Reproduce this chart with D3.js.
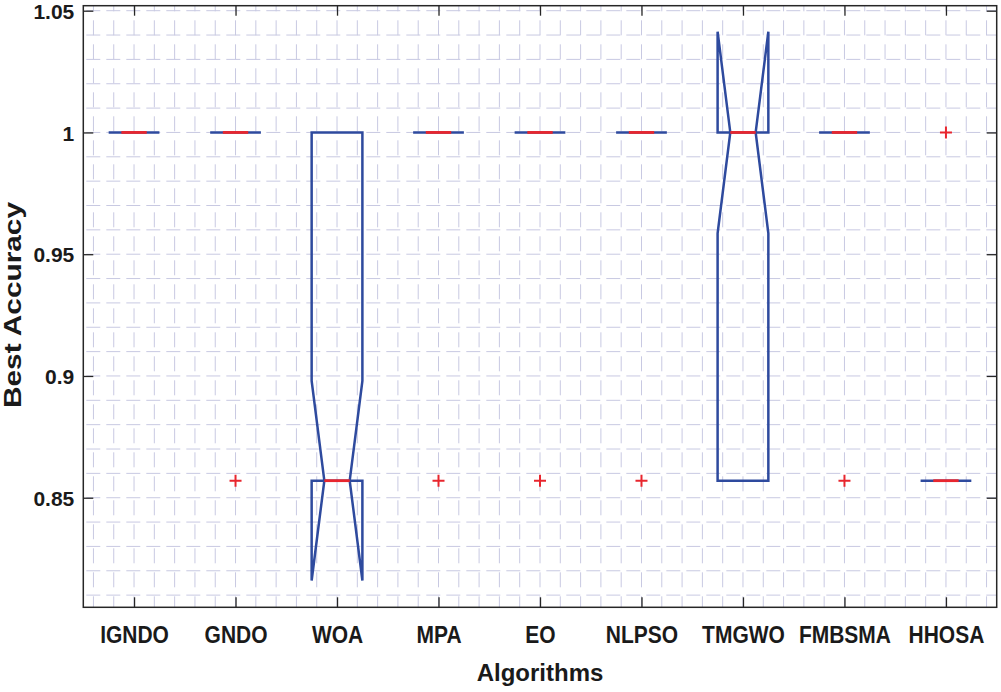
<!DOCTYPE html>
<meta charset="utf-8">
<style>
  body { margin: 0; background: #fff; }
  text { font-family: "Liberation Sans", Arial, sans-serif; font-weight: bold; fill: #1a1a1a; }
</style>
<svg width="1001" height="692"></svg>
<script src="https://d3js.org/d3.v7.min.js"></script>
<script>
// algorithms on the x axis
var algorithms = ['IGNDO', 'GNDO', 'WOA', 'MPA', 'EO', 'NLPSO', 'TMGWO', 'FMBSMA', 'HHOSA']

// box statistics
var q1      = [1, 1, 0.857, 1, 1, 1, 0.857, 1, 0.857]
var median  = [1, 1, 0.857, 1, 1, 1, 1,     1, 0.857]
var q3      = [1, 1, 1,     1, 1, 1, 1,     1, 0.857]
var notchLo = [1, 1, 0.816, 1, 1, 1, 0.9586, 1, 0.857]
var notchHi = [1, 1, 0.898, 1, 1, 1, 1.0414, 1, 0.857]

// outliers (red +)
var outliers = [
  { alg: 'GNDO', value: 0.857 },
  { alg: 'MPA', value: 0.857 },
  { alg: 'EO', value: 0.857 },
  { alg: 'NLPSO', value: 0.857 },
  { alg: 'FMBSMA', value: 0.857 },
  { alg: 'HHOSA', value: 1 }
]

var yTicks = [0.85, 0.9, 0.95, 1, 1.05]
var yTickLabels = ['0.85', '0.9', '0.95', '1', '1.05']

var svg = d3.select('svg')

// plot box edges (window.top is reserved, so own names)
var pLeft = 83.3, pRight = 996.7, pTop = 5.7, pBottom = 607.3

var x = d3.scaleLinear().domain([0.5, algorithms.length + 0.5]).range([pLeft, pRight])
var y = d3.scaleLinear().domain([0.805, 1.05205]).range([pBottom, pTop])

var blue = '#2e4a9e'
var red = '#e8262e'
var gridColor = '#c8c9e2'

// grid, dashed like the matlab export
var grid = svg.append('g')
d3.range(0.6, 9.45, 0.2).forEach(function (v) {
  grid.append('line')
    .attr('x1', x(v)).attr('x2', x(v))
    .attr('y1', pBottom).attr('y2', pTop)
    .attr('stroke', gridColor).attr('stroke-width', 1)
    .attr('stroke-dasharray', '15,9')
    .attr('stroke-dashoffset', 4)
})
d3.range(0.81, 1.0505, 0.01).forEach(function (v) {
  grid.append('line')
    .attr('x1', pLeft).attr('x2', pRight)
    .attr('y1', y(v)).attr('y2', y(v))
    .attr('stroke', gridColor).attr('stroke-width', 1)
    .attr('stroke-dasharray', '14,6')
    .attr('stroke-dashoffset', -3)
})

// axes
var xAxisB = d3.axisBottom(x).tickValues(d3.range(1, algorithms.length + 1))
  .tickSizeInner(-10).tickSizeOuter(0)
  .tickFormat(function (d) { return algorithms[d - 1] })
var gxb = svg.append('g').attr('transform', 'translate(0,' + pBottom + ')').call(xAxisB)
gxb.selectAll('text').attr('dy', 0).attr('y', 32.3).attr('font-size', 21)
  .attr('transform', 'scale(1,1.12)')
  .style('font-family', '"Liberation Sans", Arial, sans-serif').style('font-weight', 'bold').attr('fill', '#1a1a1a')

svg.append('g').attr('transform', 'translate(0,' + pTop + ')')
  .call(d3.axisTop(x).tickValues(d3.range(1, algorithms.length + 1)).tickSizeInner(-10).tickSizeOuter(0).tickFormat(''))

var gyl = svg.append('g').attr('transform', 'translate(' + pLeft + ',0)')
  .call(d3.axisLeft(y).tickValues(yTicks).tickSizeInner(-10).tickSizeOuter(0)
    .tickFormat(function (d, i) { return yTickLabels[i] }))
gyl.selectAll('text').attr('x', -9).attr('dy', '0.36em').attr('font-size', 21)
  .style('font-family', '"Liberation Sans", Arial, sans-serif').style('font-weight', 'bold').attr('fill', '#1a1a1a')

svg.append('g').attr('transform', 'translate(' + pRight + ',0)')
  .call(d3.axisRight(y).tickValues(yTicks).tickSizeInner(-10).tickSizeOuter(0).tickFormat(''))

svg.selectAll('.domain').remove()
svg.selectAll('.tick line').attr('stroke', '#262626').attr('stroke-width', 1.3)

svg.append('rect')
  .attr('x', pLeft).attr('y', pTop)
  .attr('width', pRight - pLeft).attr('height', pBottom - pTop)
  .attr('fill', 'none').attr('stroke', '#262626').attr('stroke-width', 1.5)

// boxes
var halfW = 0.25, notchW = 0.125
var boxes = svg.append('g')
algorithms.forEach(function (name, i) {
  var c = i + 1
  var L = x(c - halfW), R = x(c + halfW), iL = x(c - notchW), iR = x(c + notchW)
  var pts = [
    [L, y(q3[i])], [L, y(notchHi[i])], [iL, y(median[i])], [L, y(notchLo[i])], [L, y(q1[i])],
    [R, y(q1[i])], [R, y(notchLo[i])], [iR, y(median[i])], [R, y(notchHi[i])], [R, y(q3[i])]
  ]
  boxes.append('path')
    .attr('d', d3.line()(pts) + 'Z')
    .attr('fill', 'none').attr('stroke', blue).attr('stroke-width', 2.5)
    .attr('stroke-linejoin', 'miter')
  boxes.append('line')
    .attr('x1', iL).attr('x2', iR)
    .attr('y1', y(median[i])).attr('y2', y(median[i]))
    .attr('stroke', red).attr('stroke-width', 2.8)
})

// outliers
var s = 6
outliers.forEach(function (o) {
  var cx = x(algorithms.indexOf(o.alg) + 1), cy = y(o.value)
  boxes.append('path')
    .attr('d', 'M' + (cx - s) + ',' + cy + 'H' + (cx + s) + 'M' + cx + ',' + (cy - s) + 'V' + (cy + s))
    .attr('stroke', red).attr('stroke-width', 2).attr('fill', 'none')
})

// axis titles
svg.append('text')
  .attr('x', (pLeft + pRight) / 2).attr('y', 681)
  .attr('text-anchor', 'middle').attr('font-size', 24)
  .text('Algorithms')

svg.append('text')
  .attr('transform', 'translate(21,' + 305 + ') rotate(-90)')
  .attr('text-anchor', 'middle').attr('font-size', 24)
  .attr('textLength', 206).attr('lengthAdjust', 'spacingAndGlyphs')
  .text('Best Accuracy')
</script>
